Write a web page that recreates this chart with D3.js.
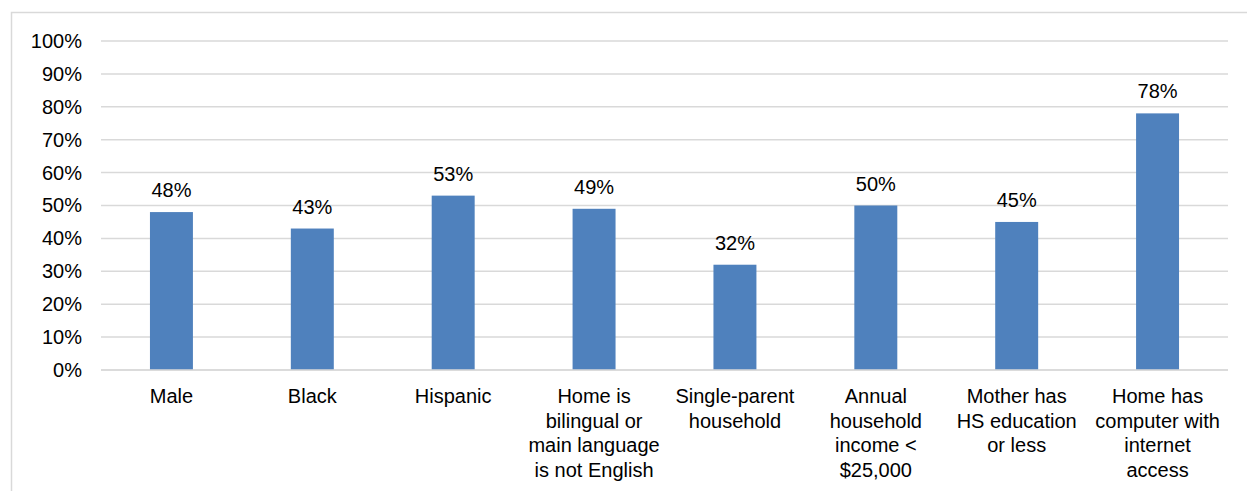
<!DOCTYPE html>
<html>
<head>
<meta charset="utf-8">
<script src="https://cdn.jsdelivr.net/npm/d3@7"></script>
<style>
  html, body { margin: 0; padding: 0; background: #fff; }
  svg { display: block; }
  text { font-family: "Liberation Sans", Arial, sans-serif; fill: #000; }
</style>
</head>
<body>
<svg id="chart" width="1248" height="491"></svg>
<script>
// Share of children with each characteristic
const categories = [
  "Male", "Black", "Hispanic", "Home is bilingual or main language is not English",
  "Single-parent household", "Annual household income < $25,000",
  "Mother has HS education or less", "Home has computer with internet access"
];
const categoryLines = [
  ["Male"],
  ["Black"],
  ["Hispanic"],
  ["Home is", "bilingual or", "main language", "is not English"],
  ["Single-parent", "household"],
  ["Annual", "household", "income <", "$25,000"],
  ["Mother has", "HS education", "or less"],
  ["Home has", "computer with", "internet", "access"]
];
const values = [48, 43, 53, 49, 32, 50, 45, 78];
const yTicks = [0, 10, 20, 30, 40, 50, 60, 70, 80, 90, 100];

const svg = d3.select("#chart");
const W = 1248, H = 491;

// outer chart frame
svg.append("path")
  .attr("d", `M11.5,${H} V12.5 H1247`)
  .attr("fill", "none")
  .attr("stroke", "#d9d9d9")
  .attr("stroke-width", 1.5);

const plot = { left: 101, right: 1228, top: 41, bottom: 370 };

const x = d3.scaleBand()
  .domain(categories)
  .range([plot.left, plot.right])
  .paddingInner(0.695)
  .paddingOuter(0.3475);

const y = d3.scaleLinear().domain([0, 100]).range([plot.bottom, plot.top]);

// gridlines
svg.append("g")
  .selectAll("line")
  .data(yTicks)
  .join("line")
  .attr("x1", plot.left)
  .attr("x2", plot.right)
  .attr("y1", d => y(d))
  .attr("y2", d => y(d))
  .attr("stroke", "#d9d9d9")
  .attr("stroke-width", 1.5);

// y axis labels
const yAxis = d3.axisLeft(y)
  .tickValues(yTicks)
  .tickFormat(d => d + "%")
  .tickSize(0)
  .tickPadding(0);
const gy = svg.append("g")
  .attr("transform", `translate(82,0)`)
  .call(yAxis);
gy.select(".domain").remove();
gy.selectAll("text")
  .attr("font-size", 20)
  .attr("font-family", "Liberation Sans, Arial, sans-serif")
  .attr("fill", "#000");

// bars
svg.append("g")
  .selectAll("rect")
  .data(values)
  .join("rect")
  .attr("x", (d, i) => x(categories[i]))
  .attr("width", x.bandwidth())
  .attr("y", d => y(d))
  .attr("height", d => y(0) - y(d))
  .attr("fill", "#4f81bd");

// value labels
svg.append("g")
  .selectAll("text")
  .data(values)
  .join("text")
  .attr("x", (d, i) => x(categories[i]) + x.bandwidth() / 2)
  .attr("y", d => y(d) - 15)
  .attr("text-anchor", "middle")
  .attr("font-size", 20)
  .text(d => d + "%");

// baseline
svg.append("line")
  .attr("x1", plot.left).attr("x2", plot.right)
  .attr("y1", y(0)).attr("y2", y(0))
  .attr("stroke", "#d9d9d9").attr("stroke-width", 1.5);

// category labels
const cat = svg.append("g")
  .selectAll("text")
  .data(categoryLines)
  .join("text")
  .attr("x", (d, i) => x(categories[i]) + x.bandwidth() / 2)
  .attr("y", y(0) + 33)
  .attr("text-anchor", "middle")
  .attr("font-size", 20);
cat.selectAll("tspan")
  .data(d => d)
  .join("tspan")
  .attr("x", function () { return d3.select(this.parentNode).attr("x"); })
  .attr("dy", (d, i) => i === 0 ? 0 : 24.5)
  .text(d => d);
</script>
</body>
</html>
